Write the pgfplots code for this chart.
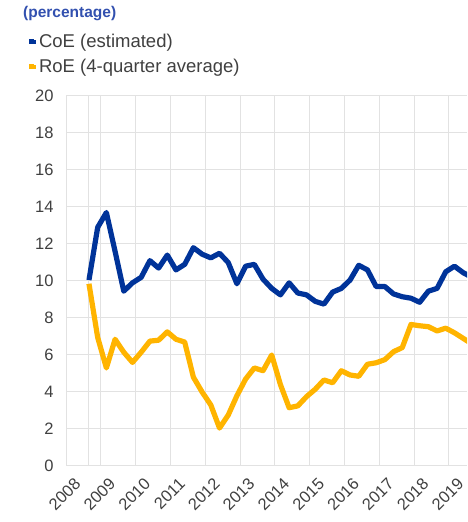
\documentclass[border=0pt]{standalone}
\usepackage{pgfplots}
\pgfplotsset{compat=1.18}
\usepackage{pgfplotstable}
\usepackage{fontspec}
\setmainfont{Liberation Sans}
\definecolor{coeblue}{RGB}{0,51,153}
\definecolor{roeorange}{RGB}{255,180,0}
\definecolor{gridgray}{RGB}{226,226,226}
\definecolor{ticktext}{RGB}{64,64,64}
\definecolor{titleblue}{RGB}{50,80,175}
\pgfplotstableread{
x y
2008.66 10.05
2008.91 12.9
2009.16 13.7
2009.41 11.6
2009.66 9.45
2009.91 9.9
2010.16 10.2
2010.41 11.1
2010.66 10.7
2010.91 11.4
2011.16 10.6
2011.41 10.9
2011.66 11.8
2011.91 11.45
2012.16 11.25
2012.41 11.5
2012.66 11.0
2012.91 9.85
2013.16 10.8
2013.41 10.9
2013.66 10.1
2013.91 9.6
2014.16 9.25
2014.41 9.9
2014.66 9.35
2014.91 9.25
2015.16 8.9
2015.41 8.75
2015.66 9.4
2015.91 9.6
2016.16 10.05
2016.41 10.85
2016.66 10.6
2016.91 9.7
2017.16 9.7
2017.41 9.3
2017.66 9.15
2017.91 9.07
2018.16 8.85
2018.41 9.45
2018.66 9.6
2018.91 10.5
2019.16 10.8
2019.41 10.45
2019.66 10.2
}\coedata
\pgfplotstableread{
x y
2008.66 9.85
2008.91 6.95
2009.16 5.3
2009.41 6.85
2009.66 6.15
2009.91 5.6
2010.16 6.15
2010.41 6.75
2010.66 6.8
2010.91 7.25
2011.16 6.85
2011.41 6.7
2011.66 4.8
2011.91 4.0
2012.16 3.3
2012.41 2.05
2012.66 2.75
2012.91 3.8
2013.16 4.7
2013.41 5.3
2013.66 5.15
2013.91 6.0
2014.16 4.4
2014.41 3.15
2014.66 3.25
2014.91 3.75
2015.16 4.15
2015.41 4.65
2015.66 4.5
2015.91 5.15
2016.16 4.92
2016.41 4.85
2016.66 5.5
2016.91 5.58
2017.16 5.75
2017.41 6.18
2017.66 6.4
2017.91 7.65
2018.16 7.58
2018.41 7.53
2018.66 7.3
2018.91 7.45
2019.16 7.2
2019.41 6.9
2019.66 6.6
}\roedata
\begin{document}
\begin{tikzpicture}
\useasboundingbox (0,0) rectangle (467pt,522pt);
\node[anchor=base west, text=titleblue, font=\fontsize{15.5}{18}\selectfont\bfseries, inner sep=0pt] at (23pt,504pt) {(percentage)};
\begin{axis}[
  at={(66pt,56pt)}, anchor=south west,
  scale only axis, width=401pt, height=370pt,
  xmin=2008, xmax=2019.52, ymin=0, ymax=20,
  axis x line=bottom, axis y line=left,
  axis line style={draw=gridgray, line width=1pt, -},
  grid=major, grid style={draw=gridgray, line width=1pt},
  major tick length=0pt,
  xtick={2008,...,2019},
  extra x ticks={2008.64}, extra x tick labels={},
  extra x tick style={grid=major},
  ytick={0,2,...,20},
  xticklabel={\pgfmathprintnumber[1000 sep={}]{\tick}},
  /pgf/number format/assume math mode=true,
  tick label style={font=\fontsize{16.5}{19}\selectfont, text=ticktext},
  yticklabel style={xshift=-9pt},
  xticklabel style={rotate=45, anchor=east, xshift=1pt, yshift=-19pt},
  legend style={at={(rel axis cs:-0.098,1.173)}, anchor=north west, draw=none, fill=none,
    font=\fontsize{18.5}{22}\selectfont, text=ticktext, row sep=6pt, inner sep=0pt},
  legend cell align=left,
  legend image code/.code={\fill[#1, draw=none] (0pt,-2pt) rectangle (7pt,2pt); \path (0pt,0pt) -- (5pt,0pt);},
]
\addplot[coeblue, line width=5.2pt, line join=round] table[x=x,y=y] {\coedata};
\addlegendentry{CoE (estimated)}
\addplot[roeorange, line width=5.2pt, line join=round] table[x=x,y=y] {\roedata};
\addlegendentry{RoE (4-quarter average)}
\end{axis}
\end{tikzpicture}
\end{document}
